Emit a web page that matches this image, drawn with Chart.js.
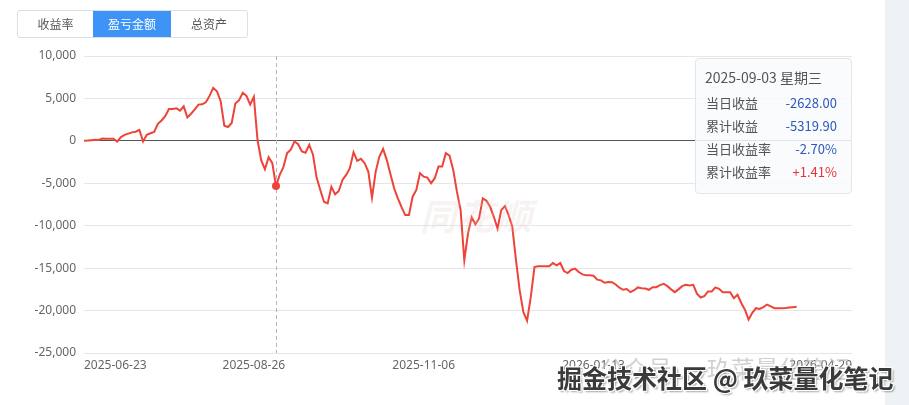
<!DOCTYPE html>
<html>
<head>
<meta charset="utf-8">
<script src="https://cdn.jsdelivr.net/npm/chart.js@4.4.1/dist/chart.umd.min.js"></script>
<style>
  html, body { margin: 0; padding: 0; background: #fff; }
  body { width: 909px; height: 405px; position: relative; overflow: hidden;
         font-family: "Noto Sans CJK SC", "Noto Sans", sans-serif; }
  .side { position: absolute; left: 885px; top: 0; width: 24px; height: 405px; background: #eef2f5; }
  .tabs { position: absolute; left: 17px; top: 10px; display: flex; border: 1px solid #dcdfe6;
          border-radius: 3px; overflow: hidden; height: 26px; }
  .tabs div { font-size: 12px; color: #555; line-height: 26px; text-align: center; }
  .tabs div.on { background: #3d94f6; color: #fff; }
  .chart-box { position: absolute; left: 0; top: 0; width: 909px; height: 405px; }
  .tip { position: absolute; left: 695px; top: 58px; width: 157px; height: 136px;
         background: rgba(248, 250, 252, 0.86); border: 1px solid #e2e6ea; border-radius: 4px;
         box-sizing: border-box; padding: 8px 14px 0 9px; color: #555; }
  .tip .title { font-size: 14px; margin-bottom: 4px; }
  .tip .row { display: flex; justify-content: space-between; font-size: 13px; height: 23px; line-height: 23px; padding-left: 1px; }
  .tip .blue { color: #2f58bd; }
  .tip .red { color: #e8333a; }
  .mark { position: absolute; left: 420px; top: 188px; font-size: 36px; font-weight: bold; font-style: italic;
          color: rgba(225, 200, 200, 0.22); letter-spacing: 2px; }
  .wm1 { position: absolute; left: 600px; top: 350px; font-size: 24px; color: rgba(190, 190, 190, 0.7); }
  .wm2 { position: absolute; left: 557px; top: 359px; font-size: 25px; font-weight: bold; color: #3a3a3a;
         text-shadow: 1px 1px 0 #fff, -1px -1px 0 #fff, 1px -1px 0 #fff, -1px 1px 0 #fff, 2px 2px 2px rgba(0,0,0,0.35); }
</style>
</head>
<body>
<div class="side"></div>
<div class="chart-box"><canvas id="c" width="909" height="405"></canvas></div>
<div class="tabs">
  <div style="width:75px">收益率</div>
  <div class="on" style="width:78px">盈亏金额</div>
  <div style="width:76px">总资产</div>
</div>
<div class="mark">同花顺</div>
<div class="tip" id="tip"></div>
<div class="wm1">公众号 · 玖菜量化笔记</div>
<div class="wm2">掘金技术社区 @ 玖菜量化笔记</div>
<script>
// x axis: trading-day slots, labelled only at a few ticks
const slotCount = 209;
const tickIndex = [0, 46, 92, 138, 208];
const tickLabels = ['2025-06-23', '2025-08-26', '2025-11-06', '2026-01-13', '2026-04-29'];

// cumulative profit / loss per trading day
const profit = [
  0, 30, 80, 130, 100, 280, 240, 250, 250, -100,
  450, 700, 850, 1000, 1080, 1300, -70, 720, 900, 1050,
  2000, 2400, 2900, 3760, 3760, 3840, 3560, 4070, 2770, 3200,
  3700, 4270, 4300, 4550, 5300, 6250, 5850, 4700, 1790, 1630,
  2100, 4400, 4800, 5660, 5300, 4270, 5190, 100, -2300, -3340,
  -1920, -2630, -5319.9, -4010, -3100, -1450, -1050, -70, -400, -1250,
  -1400, -460, -1600, -4330, -5800, -7170, -7370, -5400, -6300, -5910,
  -4610, -4010, -3220, -1330, -2360, -2120, -2630, -3620, -6700, -3620,
  -1850, -940, -2240, -3930, -5590, -6770, -7800, -8750, -8750, -6580,
  -5790, -3810, -4220, -4330, -5000, -4400, -3030, -3030, -1450, -1730,
  -3420, -5990, -8160, -14080, -10920, -9020, -9820, -9140, -6770, -7060,
  -7770, -8950, -10330, -8160, -7680, -8750, -10130, -14080, -17630, -20200,
  -21190, -18420, -14870, -14790, -14790, -14790, -14790, -14400, -14670, -14400,
  -15340, -15580, -15180, -15060, -15460, -15740, -15850, -15850, -15900, -16360,
  -16440, -16720, -16640, -16650, -16920, -17300, -17550, -17470, -17830, -17600,
  -17270, -17360, -17400, -17550, -17240, -17240, -17000, -16840, -17120, -17500,
  -17830, -17500, -17120, -16960, -17040, -16960, -18000, -18460, -18300, -17750,
  -17750, -17270, -17430, -17830, -17830, -17830, -18540, -18140, -19100, -19900,
  -21060, -20270, -19720, -19800, -19600, -19290, -19500, -19720, -19720, -19720,
  -19700, -19640, -19600, -19560
];

// hovered day shown in the tooltip
const hoverIndex = 52;
const hoverTitle = '2025-09-03 星期三';
const tipLabels = ['当日收益', '累计收益', '当日收益率', '累计收益率'];
const tipValues = ['-2628.00', '-5319.90', '-2.70%', '+1.41%'];
const tipColors = ['blue', 'blue', 'blue', 'red'];

const tip = document.getElementById('tip');
tip.innerHTML = '<div class="title">' + hoverTitle + '</div>' +
  tipLabels.map((l, i) => '<div class="row"><span>' + l + '</span><span class="' + tipColors[i] + '">' + tipValues[i] + '</span></div>').join('');

const crosshair = {
  id: 'crosshair',
  beforeDatasetsDraw(chart) {
    const { ctx, chartArea, scales } = chart;
    const x = Math.round(scales.x.getPixelForValue(hoverIndex)) + 0.5;
    ctx.save();
    ctx.strokeStyle = '#b5b5b5';
    ctx.lineWidth = 1;
    ctx.setLineDash([4, 3]);
    ctx.beginPath();
    ctx.moveTo(x, chartArea.top);
    ctx.lineTo(x, chartArea.bottom);
    ctx.stroke();
    ctx.restore();
  }
};

new Chart(document.getElementById('c'), {
  type: 'line',
  data: {
    datasets: [{
      data: profit.map((v, i) => ({ x: i, y: v })),
      borderColor: '#ee4338',
      backgroundColor: '#ee4338',
      borderWidth: 2,
      tension: 0,
      pointRadius: ctx => ctx.dataIndex === hoverIndex ? 4 : 0,
      pointBorderWidth: 0
    }]
  },
  options: {
    responsive: false,
    animation: false,
    events: [],
    layout: { padding: { left: 0, right: 57, top: 56, bottom: 0 } },
    plugins: { legend: { display: false }, tooltip: { enabled: false } },
    scales: {
      x: {
        type: 'linear',
        min: 0,
        max: slotCount - 1,
        afterBuildTicks: s => { s.ticks = tickIndex.map(v => ({ value: v })); },
        afterFit: s => { s.height = 52; },
        grid: { display: false, drawTicks: false },
        border: { display: false },
        ticks: {
          autoSkip: false,
          maxRotation: 0,
          align: 'inner',
          padding: 5,
          color: '#666',
          font: { size: 12, family: '"Noto Sans", "Noto Sans CJK SC", sans-serif' },
          callback: v => tickLabels[tickIndex.indexOf(v)] || ''
        }
      },
      y: {
        min: -25000,
        max: 10000,
        afterFit: s => { s.width = 84; },
        border: { display: false },
        grid: {
          drawTicks: false,
          color: c => c.tick && c.tick.value === 0 ? '#555' : '#e6e6e6'
        },
        ticks: {
          stepSize: 5000,
          padding: 8,
          color: '#666',
          font: { size: 12, family: '"Noto Sans", "Noto Sans CJK SC", sans-serif' },
          callback: v => v.toLocaleString('en-US')
        }
      }
    }
  },
  plugins: [crosshair]
});
</script>
</body>
</html>
